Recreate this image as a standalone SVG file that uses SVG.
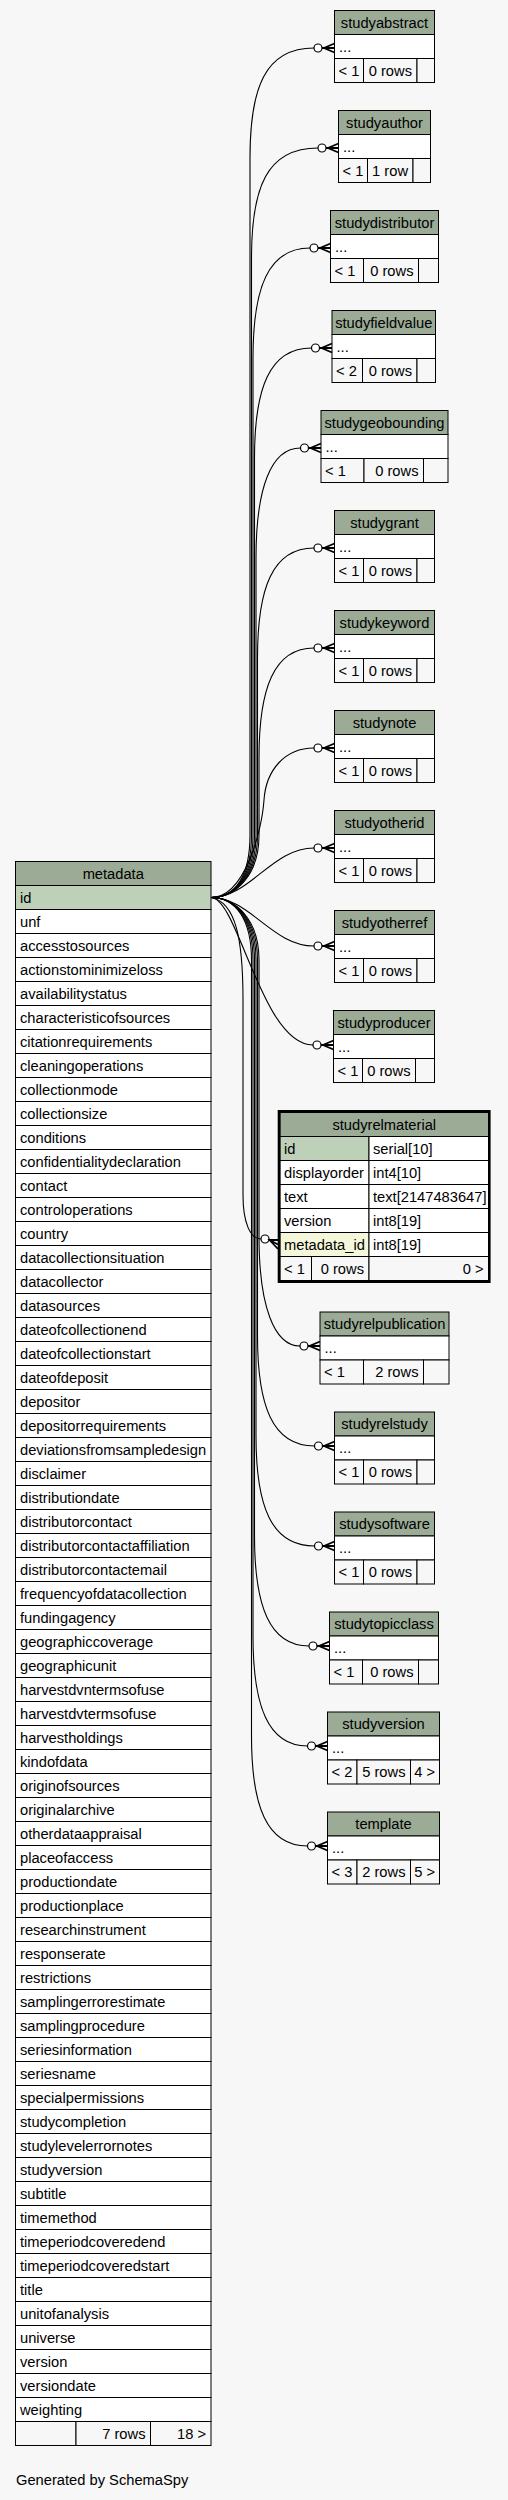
<svg xmlns="http://www.w3.org/2000/svg" width="508" height="2500" viewBox="0 0 508 2500">
<style>
text{font-family:"Liberation Sans",Arial,Helvetica,sans-serif;font-size:14.7px;fill:#000}
.c{text-anchor:middle}
.r{text-anchor:end}
.hd{fill:#9bab96;stroke:#000;stroke-width:1}
.rw{fill:#fff;stroke:#000;stroke-width:1}
.pk{fill:#bed1b8;stroke:#000;stroke-width:1}
.fk{fill:#f4f7da;stroke:#000;stroke-width:1}
.ft{fill:#f7f7f7;stroke:#000;stroke-width:1}
.edge{fill:none;stroke:#000;stroke-width:1.1}
.odot{fill:#fff;stroke:#000;stroke-width:1.2}
.crow{fill:none;stroke:#000;stroke-width:1.8}
</style>
<rect x="0" y="0" width="508" height="2500" fill="#f7f7f7"/>

<g id="metadata">
<rect class="hd" x="15.5" y="861.5" width="195.5" height="24"/>
<text class="c" x="113.25" y="878.5">metadata</text>
<rect class="pk" x="15.5" y="885.5" width="195.5" height="24"/><text x="20" y="902.5">id</text>
<rect class="rw" x="15.5" y="909.5" width="195.5" height="24"/><text x="20" y="926.5">unf</text>
<rect class="rw" x="15.5" y="933.5" width="195.5" height="24"/><text x="20" y="950.5">accesstosources</text>
<rect class="rw" x="15.5" y="957.5" width="195.5" height="24"/><text x="20" y="974.5">actionstominimizeloss</text>
<rect class="rw" x="15.5" y="981.5" width="195.5" height="24"/><text x="20" y="998.5">availabilitystatus</text>
<rect class="rw" x="15.5" y="1005.5" width="195.5" height="24"/><text x="20" y="1022.5">characteristicofsources</text>
<rect class="rw" x="15.5" y="1029.5" width="195.5" height="24"/><text x="20" y="1046.5">citationrequirements</text>
<rect class="rw" x="15.5" y="1053.5" width="195.5" height="24"/><text x="20" y="1070.5">cleaningoperations</text>
<rect class="rw" x="15.5" y="1077.5" width="195.5" height="24"/><text x="20" y="1094.5">collectionmode</text>
<rect class="rw" x="15.5" y="1101.5" width="195.5" height="24"/><text x="20" y="1118.5">collectionsize</text>
<rect class="rw" x="15.5" y="1125.5" width="195.5" height="24"/><text x="20" y="1142.5">conditions</text>
<rect class="rw" x="15.5" y="1149.5" width="195.5" height="24"/><text x="20" y="1166.5">confidentialitydeclaration</text>
<rect class="rw" x="15.5" y="1173.5" width="195.5" height="24"/><text x="20" y="1190.5">contact</text>
<rect class="rw" x="15.5" y="1197.5" width="195.5" height="24"/><text x="20" y="1214.5">controloperations</text>
<rect class="rw" x="15.5" y="1221.5" width="195.5" height="24"/><text x="20" y="1238.5">country</text>
<rect class="rw" x="15.5" y="1245.5" width="195.5" height="24"/><text x="20" y="1262.5">datacollectionsituation</text>
<rect class="rw" x="15.5" y="1269.5" width="195.5" height="24"/><text x="20" y="1286.5">datacollector</text>
<rect class="rw" x="15.5" y="1293.5" width="195.5" height="24"/><text x="20" y="1310.5">datasources</text>
<rect class="rw" x="15.5" y="1317.5" width="195.5" height="24"/><text x="20" y="1334.5">dateofcollectionend</text>
<rect class="rw" x="15.5" y="1341.5" width="195.5" height="24"/><text x="20" y="1358.5">dateofcollectionstart</text>
<rect class="rw" x="15.5" y="1365.5" width="195.5" height="24"/><text x="20" y="1382.5">dateofdeposit</text>
<rect class="rw" x="15.5" y="1389.5" width="195.5" height="24"/><text x="20" y="1406.5">depositor</text>
<rect class="rw" x="15.5" y="1413.5" width="195.5" height="24"/><text x="20" y="1430.5">depositorrequirements</text>
<rect class="rw" x="15.5" y="1437.5" width="195.5" height="24"/><text x="20" y="1454.5">deviationsfromsampledesign</text>
<rect class="rw" x="15.5" y="1461.5" width="195.5" height="24"/><text x="20" y="1478.5">disclaimer</text>
<rect class="rw" x="15.5" y="1485.5" width="195.5" height="24"/><text x="20" y="1502.5">distributiondate</text>
<rect class="rw" x="15.5" y="1509.5" width="195.5" height="24"/><text x="20" y="1526.5">distributorcontact</text>
<rect class="rw" x="15.5" y="1533.5" width="195.5" height="24"/><text x="20" y="1550.5">distributorcontactaffiliation</text>
<rect class="rw" x="15.5" y="1557.5" width="195.5" height="24"/><text x="20" y="1574.5">distributorcontactemail</text>
<rect class="rw" x="15.5" y="1581.5" width="195.5" height="24"/><text x="20" y="1598.5">frequencyofdatacollection</text>
<rect class="rw" x="15.5" y="1605.5" width="195.5" height="24"/><text x="20" y="1622.5">fundingagency</text>
<rect class="rw" x="15.5" y="1629.5" width="195.5" height="24"/><text x="20" y="1646.5">geographiccoverage</text>
<rect class="rw" x="15.5" y="1653.5" width="195.5" height="24"/><text x="20" y="1670.5">geographicunit</text>
<rect class="rw" x="15.5" y="1677.5" width="195.5" height="24"/><text x="20" y="1694.5">harvestdvntermsofuse</text>
<rect class="rw" x="15.5" y="1701.5" width="195.5" height="24"/><text x="20" y="1718.5">harvestdvtermsofuse</text>
<rect class="rw" x="15.5" y="1725.5" width="195.5" height="24"/><text x="20" y="1742.5">harvestholdings</text>
<rect class="rw" x="15.5" y="1749.5" width="195.5" height="24"/><text x="20" y="1766.5">kindofdata</text>
<rect class="rw" x="15.5" y="1773.5" width="195.5" height="24"/><text x="20" y="1790.5">originofsources</text>
<rect class="rw" x="15.5" y="1797.5" width="195.5" height="24"/><text x="20" y="1814.5">originalarchive</text>
<rect class="rw" x="15.5" y="1821.5" width="195.5" height="24"/><text x="20" y="1838.5">otherdataappraisal</text>
<rect class="rw" x="15.5" y="1845.5" width="195.5" height="24"/><text x="20" y="1862.5">placeofaccess</text>
<rect class="rw" x="15.5" y="1869.5" width="195.5" height="24"/><text x="20" y="1886.5">productiondate</text>
<rect class="rw" x="15.5" y="1893.5" width="195.5" height="24"/><text x="20" y="1910.5">productionplace</text>
<rect class="rw" x="15.5" y="1917.5" width="195.5" height="24"/><text x="20" y="1934.5">researchinstrument</text>
<rect class="rw" x="15.5" y="1941.5" width="195.5" height="24"/><text x="20" y="1958.5">responserate</text>
<rect class="rw" x="15.5" y="1965.5" width="195.5" height="24"/><text x="20" y="1982.5">restrictions</text>
<rect class="rw" x="15.5" y="1989.5" width="195.5" height="24"/><text x="20" y="2006.5">samplingerrorestimate</text>
<rect class="rw" x="15.5" y="2013.5" width="195.5" height="24"/><text x="20" y="2030.5">samplingprocedure</text>
<rect class="rw" x="15.5" y="2037.5" width="195.5" height="24"/><text x="20" y="2054.5">seriesinformation</text>
<rect class="rw" x="15.5" y="2061.5" width="195.5" height="24"/><text x="20" y="2078.5">seriesname</text>
<rect class="rw" x="15.5" y="2085.5" width="195.5" height="24"/><text x="20" y="2102.5">specialpermissions</text>
<rect class="rw" x="15.5" y="2109.5" width="195.5" height="24"/><text x="20" y="2126.5">studycompletion</text>
<rect class="rw" x="15.5" y="2133.5" width="195.5" height="24"/><text x="20" y="2150.5">studylevelerrornotes</text>
<rect class="rw" x="15.5" y="2157.5" width="195.5" height="24"/><text x="20" y="2174.5">studyversion</text>
<rect class="rw" x="15.5" y="2181.5" width="195.5" height="24"/><text x="20" y="2198.5">subtitle</text>
<rect class="rw" x="15.5" y="2205.5" width="195.5" height="24"/><text x="20" y="2222.5">timemethod</text>
<rect class="rw" x="15.5" y="2229.5" width="195.5" height="24"/><text x="20" y="2246.5">timeperiodcoveredend</text>
<rect class="rw" x="15.5" y="2253.5" width="195.5" height="24"/><text x="20" y="2270.5">timeperiodcoveredstart</text>
<rect class="rw" x="15.5" y="2277.5" width="195.5" height="24"/><text x="20" y="2294.5">title</text>
<rect class="rw" x="15.5" y="2301.5" width="195.5" height="24"/><text x="20" y="2318.5">unitofanalysis</text>
<rect class="rw" x="15.5" y="2325.5" width="195.5" height="24"/><text x="20" y="2342.5">universe</text>
<rect class="rw" x="15.5" y="2349.5" width="195.5" height="24"/><text x="20" y="2366.5">version</text>
<rect class="rw" x="15.5" y="2373.5" width="195.5" height="24"/><text x="20" y="2390.5">versiondate</text>
<rect class="rw" x="15.5" y="2397.5" width="195.5" height="24"/><text x="20" y="2414.5">weighting</text>
<rect class="ft" x="15.5" y="2421.5" width="60.5" height="24"/>
<rect class="ft" x="76" y="2421.5" width="74.5" height="24"/>
<rect class="ft" x="150.5" y="2421.5" width="60.5" height="24"/>
<text class="r" x="145.5" y="2438.5">7 rows</text>
<text class="r" x="206" y="2438.5">18 &gt;</text>
</g>

<g id="studyabstract">
<rect class="hd" x="334.5" y="10.5" width="100" height="24"/><text class="c" x="384.5" y="27.5">studyabstract</text>
<rect class="rw" x="334.5" y="34.5" width="100" height="24"/><text x="339" y="51.5">...</text>
<rect class="ft" x="334.5" y="58.5" width="29" height="24"/><rect class="ft" x="363.5" y="58.5" width="53.5" height="24"/><rect class="ft" x="417" y="58.5" width="17.5" height="24"/>
<text x="338.5" y="75.5">&lt; 1</text><text class="r" x="412" y="75.5">0 rows</text>
</g>
<g id="studyauthor">
<rect class="hd" x="338.5" y="110.5" width="92" height="24"/><text class="c" x="384.5" y="127.5">studyauthor</text>
<rect class="rw" x="338.5" y="134.5" width="92" height="24"/><text x="343" y="151.5">...</text>
<rect class="ft" x="338.5" y="158.5" width="29" height="24"/><rect class="ft" x="367.5" y="158.5" width="45.5" height="24"/><rect class="ft" x="413" y="158.5" width="17.5" height="24"/>
<text x="342.5" y="175.5">&lt; 1</text><text class="r" x="408" y="175.5">1 row</text>
</g>
<g id="studydistributor">
<rect class="hd" x="330.5" y="210.5" width="108" height="24"/><text class="c" x="384.5" y="227.5">studydistributor</text>
<rect class="rw" x="330.5" y="234.5" width="108" height="24"/><text x="335" y="251.5">...</text>
<rect class="ft" x="330.5" y="258.5" width="33" height="24"/><rect class="ft" x="363.5" y="258.5" width="55" height="24"/><rect class="ft" x="418.5" y="258.5" width="20" height="24"/>
<text x="334.5" y="275.5">&lt; 1</text><text class="r" x="413.5" y="275.5">0 rows</text>
</g>
<g id="studyfieldvalue">
<rect class="hd" x="332" y="310.5" width="103.5" height="24"/><text class="c" x="383.75" y="327.5">studyfieldvalue</text>
<rect class="rw" x="332" y="334.5" width="103.5" height="24"/><text x="336.5" y="351.5">...</text>
<rect class="ft" x="332" y="358.5" width="30.5" height="24"/><rect class="ft" x="362.5" y="358.5" width="54.5" height="24"/><rect class="ft" x="417" y="358.5" width="18.5" height="24"/>
<text x="336" y="375.5">&lt; 2</text><text class="r" x="412" y="375.5">0 rows</text>
</g>
<g id="studygeobounding">
<rect class="hd" x="321" y="410.5" width="127" height="24"/><text class="c" x="384.5" y="427.5">studygeobounding</text>
<rect class="rw" x="321" y="434.5" width="127" height="24"/><text x="325.5" y="451.5">...</text>
<rect class="ft" x="321" y="458.5" width="43" height="24"/><rect class="ft" x="364" y="458.5" width="59.5" height="24"/><rect class="ft" x="423.5" y="458.5" width="24.5" height="24"/>
<text x="325" y="475.5">&lt; 1</text><text class="r" x="418.5" y="475.5">0 rows</text>
</g>
<g id="studygrant">
<rect class="hd" x="334.5" y="510.5" width="100" height="24"/><text class="c" x="384.5" y="527.5">studygrant</text>
<rect class="rw" x="334.5" y="534.5" width="100" height="24"/><text x="339" y="551.5">...</text>
<rect class="ft" x="334.5" y="558.5" width="29" height="24"/><rect class="ft" x="363.5" y="558.5" width="53.5" height="24"/><rect class="ft" x="417" y="558.5" width="17.5" height="24"/>
<text x="338.5" y="575.5">&lt; 1</text><text class="r" x="412" y="575.5">0 rows</text>
</g>
<g id="studykeyword">
<rect class="hd" x="334.5" y="610.5" width="100" height="24"/><text class="c" x="384.5" y="627.5">studykeyword</text>
<rect class="rw" x="334.5" y="634.5" width="100" height="24"/><text x="339" y="651.5">...</text>
<rect class="ft" x="334.5" y="658.5" width="29" height="24"/><rect class="ft" x="363.5" y="658.5" width="53.5" height="24"/><rect class="ft" x="417" y="658.5" width="17.5" height="24"/>
<text x="338.5" y="675.5">&lt; 1</text><text class="r" x="412" y="675.5">0 rows</text>
</g>
<g id="studynote">
<rect class="hd" x="334.5" y="710.5" width="100" height="24"/><text class="c" x="384.5" y="727.5">studynote</text>
<rect class="rw" x="334.5" y="734.5" width="100" height="24"/><text x="339" y="751.5">...</text>
<rect class="ft" x="334.5" y="758.5" width="29" height="24"/><rect class="ft" x="363.5" y="758.5" width="53.5" height="24"/><rect class="ft" x="417" y="758.5" width="17.5" height="24"/>
<text x="338.5" y="775.5">&lt; 1</text><text class="r" x="412" y="775.5">0 rows</text>
</g>
<g id="studyotherid">
<rect class="hd" x="334.5" y="810.5" width="100" height="24"/><text class="c" x="384.5" y="827.5">studyotherid</text>
<rect class="rw" x="334.5" y="834.5" width="100" height="24"/><text x="339" y="851.5">...</text>
<rect class="ft" x="334.5" y="858.5" width="29" height="24"/><rect class="ft" x="363.5" y="858.5" width="53.5" height="24"/><rect class="ft" x="417" y="858.5" width="17.5" height="24"/>
<text x="338.5" y="875.5">&lt; 1</text><text class="r" x="412" y="875.5">0 rows</text>
</g>
<g id="studyotherref">
<rect class="hd" x="334.5" y="910.5" width="100" height="24"/><text class="c" x="384.5" y="927.5">studyotherref</text>
<rect class="rw" x="334.5" y="934.5" width="100" height="24"/><text x="339" y="951.5">...</text>
<rect class="ft" x="334.5" y="958.5" width="29" height="24"/><rect class="ft" x="363.5" y="958.5" width="53.5" height="24"/><rect class="ft" x="417" y="958.5" width="17.5" height="24"/>
<text x="338.5" y="975.5">&lt; 1</text><text class="r" x="412" y="975.5">0 rows</text>
</g>
<g id="studyproducer">
<rect class="hd" x="333.5" y="1010.5" width="101" height="24"/><text class="c" x="384" y="1027.5">studyproducer</text>
<rect class="rw" x="333.5" y="1034.5" width="101" height="24"/><text x="338" y="1051.5">...</text>
<rect class="ft" x="333.5" y="1058.5" width="29" height="24"/><rect class="ft" x="362.5" y="1058.5" width="53" height="24"/><rect class="ft" x="415.5" y="1058.5" width="19" height="24"/>
<text x="337.5" y="1075.5">&lt; 1</text><text class="r" x="410.5" y="1075.5">0 rows</text>
</g>

<g id="studyrelmaterial">
<rect class="hd" x="280" y="1112.5" width="208.5" height="24"/><text class="c" x="384.25" y="1129.5">studyrelmaterial</text>
<rect class="pk" x="280" y="1136.5" width="89" height="24"/><rect class="rw" x="369" y="1136.5" width="119.5" height="24"/>
<text x="284" y="1153.5">id</text><text x="373" y="1153.5">serial[10]</text>
<rect class="rw" x="280" y="1160.5" width="89" height="24"/><rect class="rw" x="369" y="1160.5" width="119.5" height="24"/>
<text x="284" y="1177.5">displayorder</text><text x="373" y="1177.5">int4[10]</text>
<rect class="rw" x="280" y="1184.5" width="89" height="24"/><rect class="rw" x="369" y="1184.5" width="119.5" height="24"/>
<text x="284" y="1201.5">text</text><text x="373" y="1201.5">text[2147483647]</text>
<rect class="rw" x="280" y="1208.5" width="89" height="24"/><rect class="rw" x="369" y="1208.5" width="119.5" height="24"/>
<text x="284" y="1225.5">version</text><text x="373" y="1225.5">int8[19]</text>
<rect class="fk" x="280" y="1232.5" width="89" height="24"/><rect class="rw" x="369" y="1232.5" width="119.5" height="24"/>
<text x="284" y="1249.5">metadata_id</text><text x="373" y="1249.5">int8[19]</text>
<rect class="ft" x="280" y="1256.5" width="31.5" height="24"/><rect class="ft" x="311.5" y="1256.5" width="57.5" height="24"/><rect class="ft" x="369" y="1256.5" width="119.5" height="24"/>
<text x="284" y="1273.5">&lt; 1</text><text class="r" x="364" y="1273.5">0 rows</text><text class="r" x="483.5" y="1273.5">0 &gt;</text>
<rect x="279" y="1111.3" width="210.3" height="170.4" fill="none" stroke="#000" stroke-width="2.6"/>
</g>

<g id="studyrelpublication">
<rect class="hd" x="320" y="1312" width="129" height="24"/><text class="c" x="384.5" y="1329">studyrelpublication</text>
<rect class="rw" x="320" y="1336" width="129" height="24"/><text x="324.5" y="1353">...</text>
<rect class="ft" x="320" y="1360" width="43.5" height="24"/><rect class="ft" x="363.5" y="1360" width="60" height="24"/><rect class="ft" x="423.5" y="1360" width="25.5" height="24"/>
<text x="324" y="1377">&lt; 1</text><text class="r" x="418.5" y="1377">2 rows</text>
</g>
<g id="studyrelstudy">
<rect class="hd" x="334.5" y="1412" width="100" height="24"/><text class="c" x="384.5" y="1429">studyrelstudy</text>
<rect class="rw" x="334.5" y="1436" width="100" height="24"/><text x="339" y="1453">...</text>
<rect class="ft" x="334.5" y="1460" width="29" height="24"/><rect class="ft" x="363.5" y="1460" width="53.5" height="24"/><rect class="ft" x="417" y="1460" width="17.5" height="24"/>
<text x="338.5" y="1477">&lt; 1</text><text class="r" x="412" y="1477">0 rows</text>
</g>
<g id="studysoftware">
<rect class="hd" x="334.5" y="1512" width="100" height="24"/><text class="c" x="384.5" y="1529">studysoftware</text>
<rect class="rw" x="334.5" y="1536" width="100" height="24"/><text x="339" y="1553">...</text>
<rect class="ft" x="334.5" y="1560" width="29" height="24"/><rect class="ft" x="363.5" y="1560" width="53.5" height="24"/><rect class="ft" x="417" y="1560" width="17.5" height="24"/>
<text x="338.5" y="1577">&lt; 1</text><text class="r" x="412" y="1577">0 rows</text>
</g>
<g id="studytopicclass">
<rect class="hd" x="329.5" y="1612" width="109" height="24"/><text class="c" x="384" y="1629">studytopicclass</text>
<rect class="rw" x="329.5" y="1636" width="109" height="24"/><text x="334" y="1653">...</text>
<rect class="ft" x="329.5" y="1660" width="33" height="24"/><rect class="ft" x="362.5" y="1660" width="56" height="24"/><rect class="ft" x="418.5" y="1660" width="20" height="24"/>
<text x="333.5" y="1677">&lt; 1</text><text class="r" x="413.5" y="1677">0 rows</text>
</g>
<g id="studyversion">
<rect class="hd" x="327.5" y="1712" width="112" height="24"/><text class="c" x="383.5" y="1729">studyversion</text>
<rect class="rw" x="327.5" y="1736" width="112" height="24"/><text x="332" y="1753">...</text>
<rect class="ft" x="327.5" y="1760" width="29.5" height="24"/><rect class="ft" x="357" y="1760" width="53.5" height="24"/><rect class="ft" x="410.5" y="1760" width="29" height="24"/>
<text x="331.5" y="1777">&lt; 2</text><text class="r" x="405.5" y="1777">5 rows</text><text class="r" x="435" y="1777">4 &gt;</text>
</g>
<g id="template">
<rect class="hd" x="327.5" y="1812" width="112" height="24"/><text class="c" x="383.5" y="1829">template</text>
<rect class="rw" x="327.5" y="1836" width="112" height="24"/><text x="332" y="1853">...</text>
<rect class="ft" x="327.5" y="1860" width="29.5" height="24"/><rect class="ft" x="357" y="1860" width="53.5" height="24"/><rect class="ft" x="410.5" y="1860" width="29" height="24"/>
<text x="331.5" y="1877">&lt; 3</text><text class="r" x="405.5" y="1877">2 rows</text><text class="r" x="435" y="1877">5 &gt;</text>
</g>

<g id="connectors">
<path class="edge" d="M211,897.5 C236,897.5 250,875 250,835 L250,158 C250,88 265,48 314,48"/>
<circle class="odot" cx="318" cy="48" r="4"/><path class="crow" d="M334.5,43.5 L324,48 L334.5,52.5 M322,48 L334.5,48"/>

<path class="edge" d="M211,897.5 C236,897.5 251.5,875 251.5,835 L251.5,258 C251.5,188 266.5,148 318,148"/>
<circle class="odot" cx="322" cy="148" r="4"/><path class="crow" d="M338.5,143.5 L328,148 L338.5,152.5 M326,148 L338.5,148"/>

<path class="edge" d="M211,897.5 C236,897.5 253,875 253,835 L253,358 C253,288 268,248 310,248"/>
<circle class="odot" cx="314" cy="248" r="4"/><path class="crow" d="M330.5,243.5 L320,248 L330.5,252.5 M318,248 L330.5,248"/>

<path class="edge" d="M211,897.5 C236,897.5 254.5,875 254.5,835 L254.5,458 C254.5,388 269.5,348 311.5,348"/>
<circle class="odot" cx="315.5" cy="348" r="4"/><path class="crow" d="M332,343.5 L321.5,348 L332,352.5 M319.5,348 L332,348"/>

<path class="edge" d="M211,897.5 C236,897.5 256,875 256,835 L256,558 C256,488 271,448 300.5,448"/>
<circle class="odot" cx="304.5" cy="448" r="4"/><path class="crow" d="M321,443.5 L310.5,448 L321,452.5 M308.5,448 L321,448"/>

<path class="edge" d="M211,897.5 C236,897.5 257.5,875 257.5,835 L257.5,658 C257.5,588 272.5,548 314,548"/>
<circle class="odot" cx="318" cy="548" r="4"/><path class="crow" d="M334.5,543.5 L324,548 L334.5,552.5 M322,548 L334.5,548"/>

<path class="edge" d="M211,897.5 C236,897.5 259,875 259,835 L259,758 C259,688 274,648 314,648"/>
<circle class="odot" cx="318" cy="648" r="4"/><path class="crow" d="M334.5,643.5 L324,648 L334.5,652.5 M322,648 L334.5,648"/>

<path class="edge" d="M211,897.5 C245,897.5 262,830 264,800 C266,770 285,748 314,748"/>
<circle class="odot" cx="318" cy="748" r="4"/><path class="crow" d="M334.5,743.5 L324,748 L334.5,752.5 M322,748 L334.5,748"/>

<path class="edge" d="M211,897.5 C250,897.5 272,848 314,848"/>
<circle class="odot" cx="318" cy="848" r="4"/><path class="crow" d="M334.5,843.5 L324,848 L334.5,852.5 M322,848 L334.5,848"/>

<path class="edge" d="M211,897.5 C250,897.5 272,946 314,946"/>
<circle class="odot" cx="318" cy="946" r="4"/><path class="crow" d="M334.5,941.5 L324,946 L334.5,950.5 M322,946 L334.5,946"/>

<path class="edge" d="M211,897.5 C238,897.5 262,1045 313,1045"/>
<circle class="odot" cx="317" cy="1045" r="4"/><path class="crow" d="M333.5,1040.5 L323,1045 L333.5,1049.5 M321,1045 L333.5,1045"/>

<path class="edge" d="M211,897.5 C236,902 243,940 243,1000 L243,1195 C243,1222 250,1239 261,1239"/>
<circle class="odot" cx="265" cy="1239" r="4"/><path class="crow" d="M278,1240 L269.5,1240 L278,1249 M269.5,1240 L278,1244.5"/>

<path class="edge" d="M211,897.5 C236,897.5 259,920 259,960 L259,1236 C259,1306 274,1346 300,1346"/>
<circle class="odot" cx="304" cy="1346" r="4"/><path class="crow" d="M320,1341.5 L309.5,1346 L320,1350.5 M308,1346 L320,1346"/>

<path class="edge" d="M211,897.5 C236,897.5 257.5,920 257.5,960 L257.5,1336 C257.5,1406 272.5,1446 314.5,1446"/>
<circle class="odot" cx="318.5" cy="1446" r="4"/><path class="crow" d="M334.5,1441.5 L324,1446 L334.5,1450.5 M322.5,1446 L334.5,1446"/>

<path class="edge" d="M211,897.5 C236,897.5 256,920 256,960 L256,1436 C256,1506 271,1546 314.5,1546"/>
<circle class="odot" cx="318.5" cy="1546" r="4"/><path class="crow" d="M334.5,1541.5 L324,1546 L334.5,1550.5 M322.5,1546 L334.5,1546"/>

<path class="edge" d="M211,897.5 C236,897.5 254.5,920 254.5,960 L254.5,1536 C254.5,1606 269.5,1646 309,1646"/>
<circle class="odot" cx="313" cy="1646" r="4"/><path class="crow" d="M329.5,1641.5 L319,1646 L329.5,1650.5 M317,1646 L329.5,1646"/>

<path class="edge" d="M211,897.5 C236,897.5 253,920 253,960 L253,1636 C253,1706 268,1746 307.5,1746"/>
<circle class="odot" cx="311.5" cy="1746" r="4"/><path class="crow" d="M327.5,1741.5 L317,1746 L327.5,1750.5 M315.5,1746 L327.5,1746"/>

<path class="edge" d="M211,897.5 C236,897.5 251.5,920 251.5,960 L251.5,1736 C251.5,1806 266.5,1846 307.5,1846"/>
<circle class="odot" cx="311.5" cy="1846" r="4"/><path class="crow" d="M327.5,1841.5 L317,1846 L327.5,1850.5 M315.5,1846 L327.5,1846"/>
</g>

<text x="16" y="2485">Generated by SchemaSpy</text>
</svg>
